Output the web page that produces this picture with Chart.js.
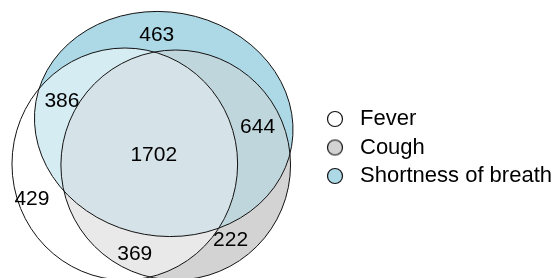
<!DOCTYPE html>
<html>
<head>
<meta charset="utf-8">
<script src="https://cdn.jsdelivr.net/npm/chart.js@4.4.1/dist/chart.umd.min.js"></script>
<style>
  html, body { margin: 0; padding: 0; background: #fff; }
  #wrap { width: 559px; height: 278px; position: relative; }
</style>
</head>
<body>
<div id="wrap"><canvas id="vennChart"></canvas></div>
<script>
// sets and their colours
const setNames = ['Fever', 'Cough', 'Shortness of breath'];
const setColors = ['#ffffff', '#d3d3d3', '#add8e6'];

// regions: which sets each one belongs to, and its count
const regionSets = [[0], [0, 2], [2], [1, 2], [0, 1, 2], [0, 1], [1]];
const regionCounts = [429, 386, 463, 644, 1702, 369, 222];

// layout (not data): ellipse geometry and where each count sits, in scale units
const ellipses = [
    { cx: 125, cy: 164, rx: 113, ry: 116, rot: 0 },
    { cx: 176, cy: 165, rx: 115, ry: 115, rot: 0 },
    { cx: 164, cy: 124, rx: 130, ry: 112, rot: 10 }
];
const labelPos = [[32, 199], [62, 101], [157, 35], [258, 127], [154, 155], [135, 254], [231, 240]];

const FONT = '"Liberation Sans", Arial, Helvetica, sans-serif';

function mixColors(idx) {
    let r = 0, g = 0, b = 0;
    idx.forEach(function(i) {
        const h = setColors[i];
        r += parseInt(h.substr(1, 2), 16);
        g += parseInt(h.substr(3, 2), 16);
        b += parseInt(h.substr(5, 2), 16);
    });
    const n = idx.length;
    return 'rgb(' + Math.round(r / n) + ',' + Math.round(g / n) + ',' + Math.round(b / n) + ')';
}

function makeDot(color) {
    const c = document.createElement('canvas');
    c.width = 18; c.height = 18;
    const g = c.getContext('2d');
    g.beginPath();
    g.arc(9, 9, 7.5, 0, Math.PI * 2);
    g.fillStyle = color;
    g.fill();
    g.lineWidth = 1.2;
    g.strokeStyle = '#111';
    g.stroke();
    return c;
}
const dots = setColors.map(makeDot);

function ellipsePath(ctx, chart, e) {
    const xs = chart.scales.x, ys = chart.scales.y;
    const cx = xs.getPixelForValue(e.cx);
    const cy = ys.getPixelForValue(e.cy);
    const rx = Math.abs(xs.getPixelForValue(e.cx + e.rx) - cx);
    const ry = Math.abs(ys.getPixelForValue(e.cy + e.ry) - cy);
    ctx.ellipse(cx, cy, rx, ry, e.rot * Math.PI / 180, 0, Math.PI * 2);
}

const vennPlugin = {
    id: 'venn',
    beforeDatasetsDraw(chart) {
        const ctx = chart.ctx;
        const w = chart.width, h = chart.height;
        // fill each region with the mean colour of its sets
        regionSets.forEach(function(members) {
            ctx.save();
            ellipses.forEach(function(e, i) {
                ctx.beginPath();
                if (members.indexOf(i) >= 0) {
                    ellipsePath(ctx, chart, e);
                    ctx.clip();
                } else {
                    ctx.rect(0, 0, w, h);
                    ellipsePath(ctx, chart, e);
                    ctx.clip('evenodd');
                }
            });
            ctx.fillStyle = mixColors(members);
            ctx.fillRect(0, 0, w, h);
            ctx.restore();
        });
        ctx.save();
        ctx.lineWidth = 1;
        ctx.strokeStyle = '#111';
        ellipses.forEach(function(e) {
            ctx.beginPath();
            ellipsePath(ctx, chart, e);
            ctx.stroke();
        });
        ctx.restore();
    },
    afterDatasetsDraw(chart) {
        const ctx = chart.ctx;
        const meta = chart.getDatasetMeta(0);
        ctx.save();
        ctx.font = '21px ' + FONT;
        ctx.fillStyle = '#000';
        ctx.textAlign = 'center';
        ctx.textBaseline = 'middle';
        meta.data.forEach(function(pt, i) {
            ctx.fillText(String(regionCounts[i]), pt.x, pt.y);
        });
        ctx.restore();
    }
};

new Chart(document.getElementById('vennChart').getContext('2d'), {
    type: 'scatter',
    data: {
        datasets: [{
            label: 'counts',
            data: regionCounts.map(function(c, i) {
                return { x: labelPos[i][0], y: labelPos[i][1] };
            }),
            pointRadius: 0,
            pointHoverRadius: 0
        }]
    },
    options: {
        responsive: true,
        maintainAspectRatio: false,
        animation: false,
        layout: { padding: { top: 17, right: -3, left: 0, bottom: 0 } },
        scales: {
            x: { display: false, min: 0, max: 315 },
            y: { display: false, min: 17, max: 278, reverse: true }
        },
        plugins: {
            tooltip: { enabled: false },
            legend: {
                position: 'right',
                labels: {
                    usePointStyle: true,
                    pointStyleWidth: 28,
                    padding: 6.5,
                    color: '#000',
                    font: { family: FONT, size: 22 },
                    generateLabels: function() {
                        return setNames.map(function(n, i) {
                            return {
                                text: n,
                                pointStyle: dots[i],
                                fillStyle: setColors[i],
                                strokeStyle: '#111',
                                lineWidth: 1,
                                hidden: false,
                                datasetIndex: 0,
                                fontColor: '#000'
                            };
                        });
                    }
                }
            }
        }
    },
    plugins: [vennPlugin]
});
</script>
</body>
</html>
